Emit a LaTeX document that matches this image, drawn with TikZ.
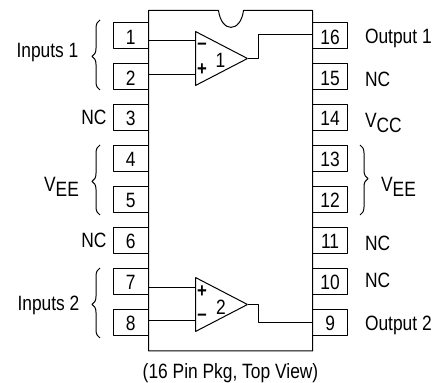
\documentclass[tikz,border=0pt]{standalone}
\usepackage{fontspec}
\setmainfont[FakeStretch=0.84]{Liberation Sans}
\usetikzlibrary{shapes.geometric,decorations.pathreplacing}
\newcommand{\railname}[1]{V\raisebox{-.27em}{#1}}
\tikzset{
  pin/.style={draw,minimum height=25.5bp,inner sep=0pt,outer sep=0pt,text height=17bp,text depth=0pt},
  pinleft/.style={pin,minimum width=35.5bp},
  pinright/.style={pin,minimum width=34.8bp},
  label/.style={inner sep=0pt,outer sep=0pt},
  sign/.style={inner sep=0pt,outer sep=0pt,font=\fontsize{20bp}{20bp}\bfseries},
  opamp/.style={draw,isosceles triangle,isosceles triangle stretches,shape border rotate=0,minimum width=54bp,minimum height=52bp,inner sep=0pt,outer sep=0pt,anchor=apex},
  bracket/.style={decorate,decoration={brace,amplitude=8bp,aspect=.48}},
}
\begin{document}
\begin{tikzpicture}[>=latex,line join=bevel,line width=1bp,font=\fontsize{20.7bp}{21bp}\selectfont]
\useasboundingbox (0bp,0bp) rectangle (441bp,383bp);
%% package
\draw (218.5bp,372.5bp) -- (148.5bp,372.5bp) -- (148.5bp,32bp) -- (312.7bp,32bp) -- (312.7bp,372.5bp) -- (243.5bp,372.5bp)
  .. controls (240.5bp,350bp) and (221.5bp,350bp) .. (218.5bp,372.5bp);
%% pins
\node (pin_1) at (130.75bp,347.25bp) [pinleft] {1};
\node (pin_2) at (130.75bp,306.25bp) [pinleft] {2};
\node (pin_3) at (130.75bp,265.5bp) [pinleft] {3};
\node (pin_4) at (130.75bp,224.5bp) [pinleft] {4};
\node (pin_5) at (130.75bp,183.5bp) [pinleft] {5};
\node (pin_6) at (130.75bp,142.5bp) [pinleft] {6};
\node (pin_7) at (130.75bp,101.5bp) [pinleft] {7};
\node (pin_8) at (130.75bp,60.5bp) [pinleft] {8};
\node (pin_16) at (330.1bp,347.25bp) [pinright] {16};
\node (pin_15) at (330.1bp,306.25bp) [pinright] {15};
\node (pin_14) at (330.1bp,265.5bp) [pinright] {14};
\node (pin_13) at (330.1bp,224.5bp) [pinright] {13};
\node (pin_12) at (330.1bp,183.5bp) [pinright] {12};
\node (pin_11) at (330.1bp,142.5bp) [pinright] {11};
\node (pin_10) at (330.1bp,101.5bp) [pinright] {10};
\node (pin_9) at (330.1bp,60.5bp) [pinright] {9};
%% amplifiers
\node (amp_1) at (247.5bp,324.5bp) [opamp] {};
\node (amp_2) at (247.5bp,78.5bp) [opamp] {};
\node (num_1) at (220.5bp,323bp) [label] {1};
\node (num_2) at (221bp,76bp) [label] {2};
\node (minus_1) at (202bp,337bp) [sign] {--};
\node (plus_1) at (202bp,313bp) [sign] {+};
\node (plus_2) at (202bp,91bp) [sign] {+};
\node (minus_2) at (202bp,66bp) [sign] {--};
%% wires
\coordinate (in_1) at (148.5bp,342bp);
\coordinate (in_2) at (148.5bp,308.5bp);
\coordinate (in_7) at (148.5bp,95.5bp);
\coordinate (in_8) at (148.5bp,62bp);
\coordinate (out_16) at (312.7bp,348bp);
\coordinate (out_9) at (312.7bp,60.5bp);
\draw (in_1) -- (in_1 -| amp_1.left corner);
\draw (in_2) -- (in_2 -| amp_1.left corner);
\draw (in_7) -- (in_7 -| amp_2.left corner);
\draw (in_8) -- (in_8 -| amp_2.left corner);
\draw (amp_1.apex) -- (258.5bp,324.5bp) -- (258.5bp,348bp) -- (out_16);
\draw (amp_2.apex) -- (258.5bp,78.5bp) -- (258.5bp,60.5bp) -- (out_9);
%% braces
\draw [bracket] (100bp,293bp) -- (100bp,363bp);
\draw [bracket] (100bp,168bp) -- (100bp,238bp);
\draw [bracket] (100bp,45bp) -- (100bp,115bp);
\draw [bracket] (360bp,238bp) -- (360bp,168bp);
%% labels
\node (lbl_inputs_1) at (47.5bp,330bp) [label] {Inputs 1};
\node (lbl_inputs_2) at (48.5bp,78bp) [label] {Inputs 2};
\node (lbl_nc_3) at (94bp,266bp) [label] {NC};
\node (lbl_nc_6) at (94bp,143bp) [label] {NC};
\node (lbl_vee_l) at (61.5bp,196bp) [label] {\railname{EE}};
\node (lbl_vee_r) at (398.5bp,196bp) [label] {\railname{EE}};
\node (lbl_out_1) at (365bp,345bp) [label,anchor=west] {Output 1};
\node (lbl_nc_15) at (365bp,304bp) [label,anchor=west] {NC};
\node (lbl_vcc) at (365bp,260bp) [label,anchor=west] {\railname{CC}};
\node (lbl_nc_11) at (365bp,140bp) [label,anchor=west] {NC};
\node (lbl_nc_10) at (365bp,103bp) [label,anchor=west] {NC};
\node (lbl_out_2) at (365bp,58bp) [label,anchor=west] {Output 2};
\node (lbl_caption) at (230.5bp,10bp) [label] {(16 Pin Pkg, Top View)};
\end{tikzpicture}
\end{document}
